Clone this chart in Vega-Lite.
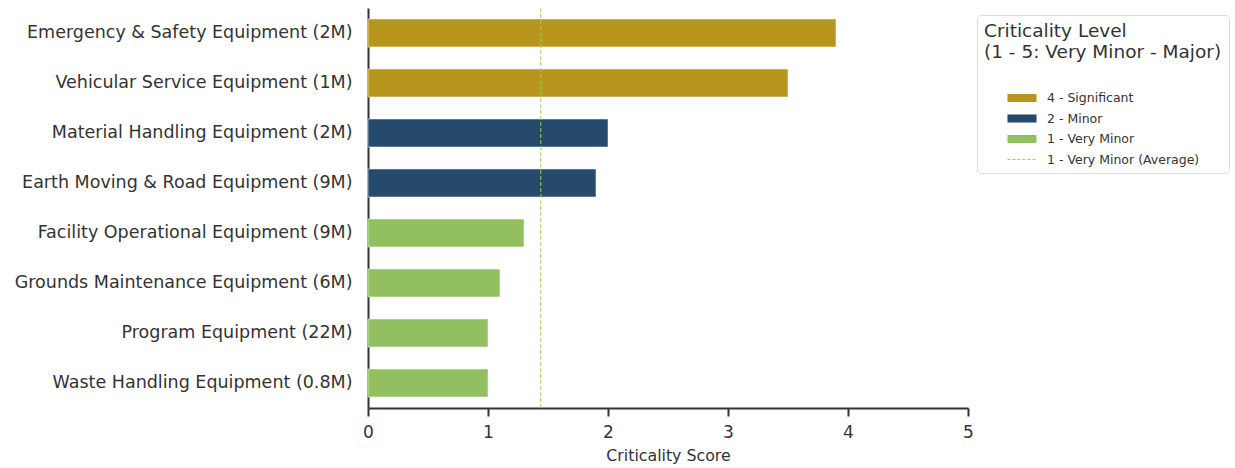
{
  "$schema": "https://vega.github.io/schema/vega-lite/v6.json",
  "width": 600,
  "height": 400,
  "autosize": {"type": "none"},
  "padding": {"left": 368, "top": 8, "right": 267, "bottom": 60},
  "background": "white",
  "config": {
    "font": "DejaVu Sans",
    "view": {"stroke": null}
  },
  "datasets": {
    "bars": [
      {"category": "Emergency & Safety Equipment (2M)", "score": 3.9, "level": "4 - Significant"},
      {"category": "Vehicular Service Equipment (1M)", "score": 3.5, "level": "4 - Significant"},
      {"category": "Material Handling Equipment (2M)", "score": 2.0, "level": "2 - Minor"},
      {"category": "Earth Moving & Road Equipment (9M)", "score": 1.9, "level": "2 - Minor"},
      {"category": "Facility Operational Equipment (9M)", "score": 1.3, "level": "1 - Very Minor"},
      {"category": "Grounds Maintenance Equipment (6M)", "score": 1.1, "level": "1 - Very Minor"},
      {"category": "Program Equipment (22M)", "score": 1.0, "level": "1 - Very Minor"},
      {"category": "Waste Handling Equipment (0.8M)", "score": 1.0, "level": "1 - Very Minor"}
    ],
    "avg": [{"avg": 1.44}]
  },
  "layer": [
    {
      "data": {"name": "bars"},
      "mark": {"type": "bar", "stroke": "white", "strokeOpacity": 0.5, "strokeWidth": 1},
      "encoding": {
        "y": {
          "field": "category", "type": "nominal", "sort": null,
          "scale": {"paddingInner": 0.44, "paddingOuter": 0.22},
          "axis": {
            "title": null, "labelFontSize": 17.5, "labelColor": "#333333",
            "labelPadding": 16, "ticks": false, "domainColor": "#333333",
            "domainWidth": 2, "labelLimit": 400
          }
        },
        "x": {
          "field": "score", "type": "quantitative",
          "scale": {"domain": [0, 5], "nice": false},
          "axis": {
            "title": "Criticality Score", "titleFontSize": 15.8, "titleFontWeight": "normal",
            "titleColor": "#333333", "titlePadding": 8,
            "labelFontSize": 17, "labelColor": "#333333", "labelPadding": 8,
            "values": [0, 1, 2, 3, 4, 5], "format": "d", "labelOverlap": false, "grid": false,
            "tickColor": "#333333", "tickWidth": 2, "tickSize": 8,
            "domainColor": "#333333", "domainWidth": 2, "labelFlush": false
          }
        },
        "color": {
          "field": "level", "type": "nominal",
          "scale": {
            "domain": ["4 - Significant", "2 - Minor", "1 - Very Minor", "1 - Very Minor (Average)"],
            "range": ["#B8961E", "#264A6B", "#92C060", "#9ACD5A"]
          },
          "legend": {
            "orient": "none", "legendX": 609, "legendY": 7,
            "title": ["Criticality Level", "(1 - 5: Very Minor - Major)"],
            "titleFontSize": 18.5, "titleFontWeight": "normal", "titleColor": "#333333",
            "titleLineHeight": 21, "titlePadding": 30, "titleLimit": 500,
            "labelFontSize": 12.5, "labelColor": "#333333", "labelLimit": 400,
            "symbolType": "M2.83,-0.67H7.67V0.67H2.83Z",
            "symbolSize": 144, "labelOffset": 50,
            "rowPadding": 7.5,
            "padding": 7, "strokeColor": "#dddddd", "cornerRadius": 4, "fillColor": "white",
            "encoding": {
              "symbols": {
                "shape": {"condition": {"test": "datum.value === '1 - Very Minor (Average)'", "value": "M2.83,0H7.67"}, "value": "M2.83,-0.67H7.67V0.67H2.83Z"},
                "fillOpacity": {"condition": {"test": "datum.value === '1 - Very Minor (Average)'", "value": 0}, "value": 1},
                "stroke": {"condition": {"test": "datum.value === '1 - Very Minor (Average)'", "value": "#9ACD5A"}, "value": "transparent"},
                "strokeDash": {"condition": {"test": "datum.value === '1 - Very Minor (Average)'", "value": [3, 2]}, "value": [1, 0]},
                "strokeWidth": {"value": 1}
              }
            }
          }
        }
      }
    },
    {
      "data": {"name": "avg"},
      "mark": {"type": "rule", "color": "#9ACD5A", "strokeDash": [4, 2], "strokeWidth": 1},
      "encoding": {
        "x": {"field": "avg", "type": "quantitative"},
        "y": {"value": 0},
        "y2": {"value": 400}
      }
    }
  ]
}
